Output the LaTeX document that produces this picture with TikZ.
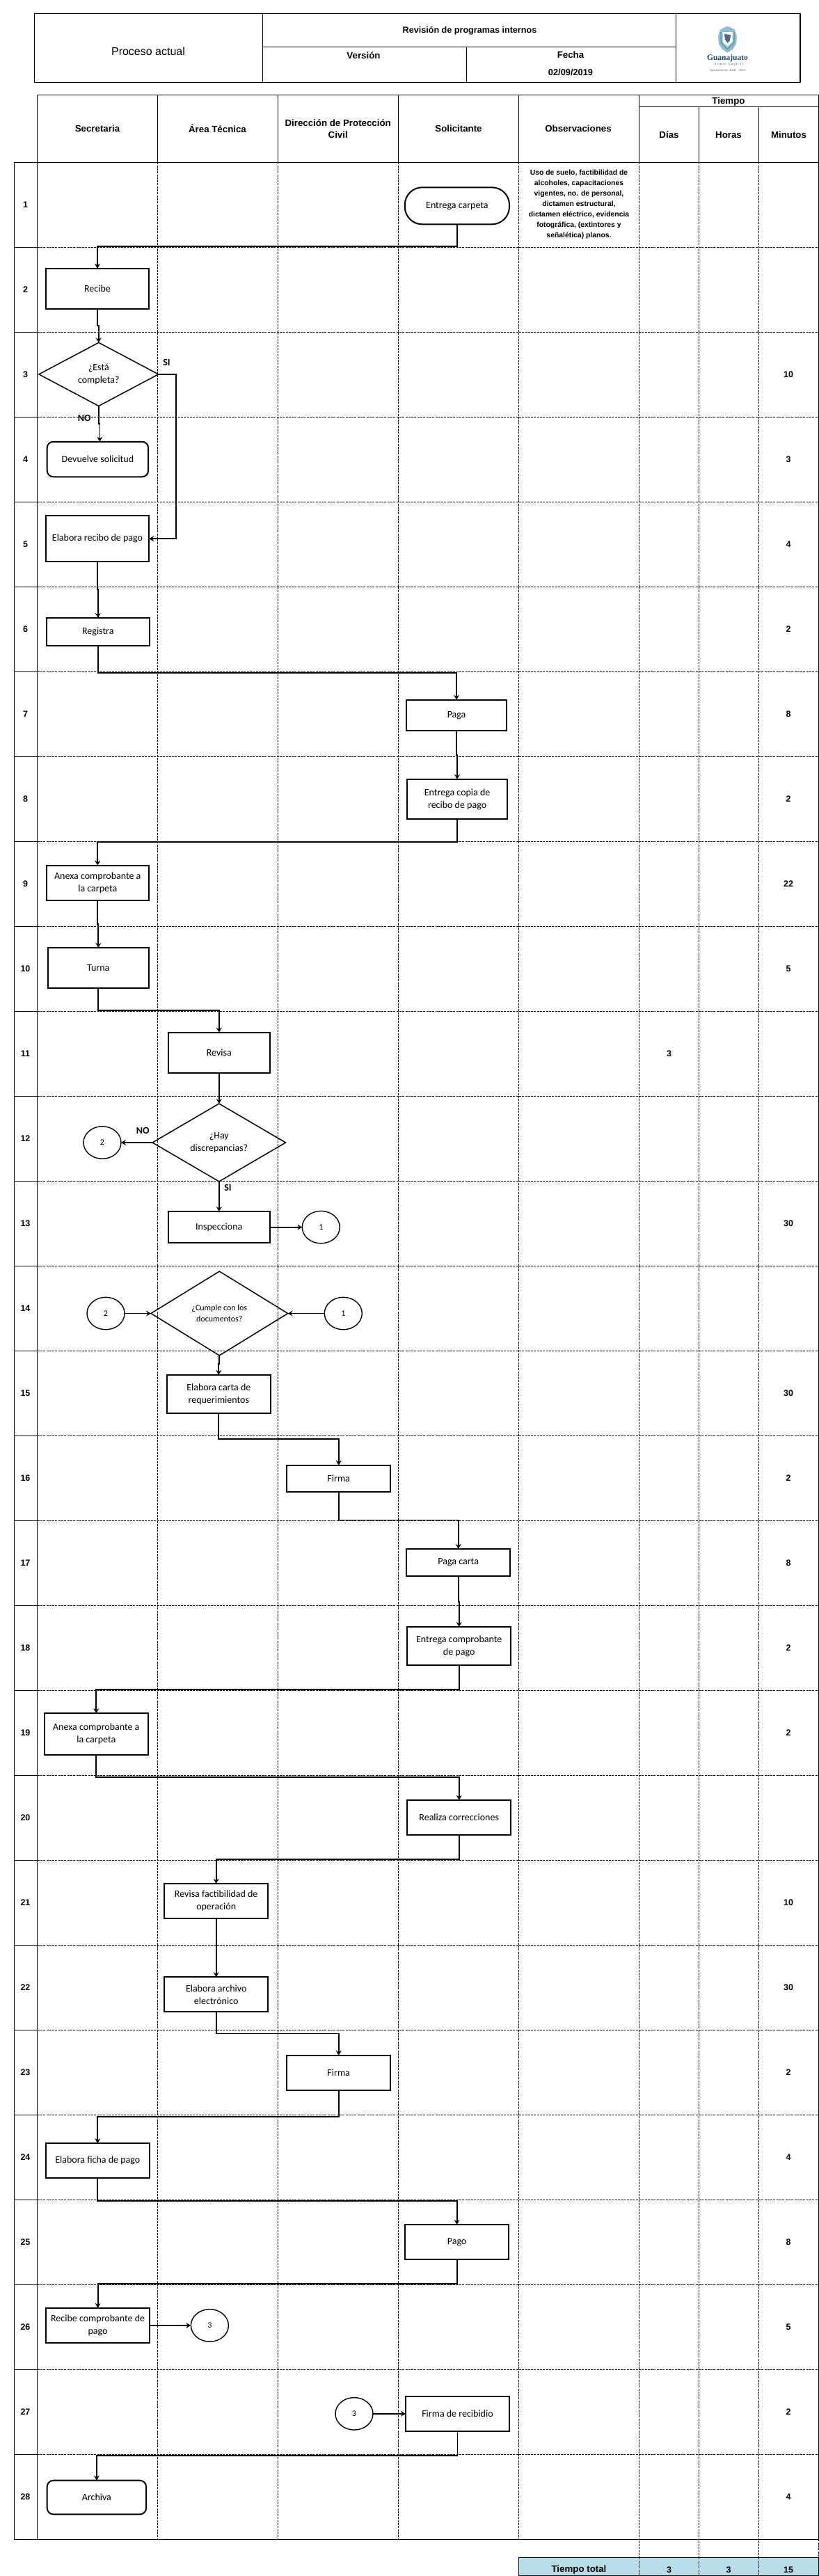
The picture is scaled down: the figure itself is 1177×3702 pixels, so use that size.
\documentclass[tikz,border=0pt]{standalone}
\usepackage{fontspec}
\setmainfont{Carlito}
\newfontfamily\headfont{Liberation Sans}
\newfontfamily\logofont{Liberation Serif}
\usepackage{xcolor}
\usetikzlibrary{calc}
\usetikzlibrary{arrows.meta}
\usetikzlibrary{shapes.geometric}
\definecolor{totalfill}{HTML}{B7DDE8}
\definecolor{crestteal}{HTML}{8FBFCC}
\definecolor{crestdark}{HTML}{4F8EA3}
\definecolor{logonavy}{HTML}{1D4A68}
\tikzset{
  gridsolid/.style={black, line width=1pt},
  griddash/.style={black, line width=0.9pt, dash pattern=on 3pt off 1.3pt},
  frame/.style={black, line width=1.5pt},
  procbox/.style={draw=black, line width=2pt, rectangle, inner sep=0pt, outer sep=0pt, align=center, font=\fontsize{14}{17.8}\selectfont},
  endbox/.style={procbox, rounded corners=9pt},
  decision/.style={draw=black, line width=1.5pt, diamond, inner sep=0pt, outer sep=0pt, align=center, font=\fontsize{14}{17.8}\selectfont},
  linkcirc/.style={draw=black, line width=1.4pt, ellipse, inner sep=0pt, outer sep=0pt, minimum width=54pt, minimum height=46.5pt, font=\fontsize{12}{14}\selectfont},
  flow/.style={black, line width=1.8pt, -{Stealth[length=7pt, width=8pt, inset=2.5pt]}},
  answer/.style={inner sep=0pt, font=\fontsize{14}{16}\selectfont\bfseries},
  rownum/.style={inner sep=0pt, font=\headfont\fontsize{12.5}{16}\selectfont\bfseries},
  headtxt/.style={inner sep=0pt, align=center, font=\headfont\fontsize{13.3}{17}\selectfont\bfseries},
}

\begin{document}
\begin{tikzpicture}[x=1pt, y=-1pt]
  \useasboundingbox (0,0) rectangle (1177,3702);
  % title block
  \draw[frame] (49.5,19.3) rectangle (1150,118.3);
  \draw[frame] (377.6,19.3) -- (377.6,118.3);
  \draw[frame] (971.5,19.3) -- (971.5,118.3);
  \draw[frame] (377.6,67.3) -- (971.5,67.3);
  \draw[frame] (670.4,67.3) -- (670.4,118.3);
  \node[inner sep=0pt, font=\headfont\fontsize{16}{18}\selectfont] (proceso) at (213,74) {Proceso actual};
  \node[headtxt, font=\headfont\fontsize{12.6}{15}\selectfont\bfseries] (revision) at (675,44.3) {Revisión de programas internos};
  \node[headtxt] (version) at (522.5,79.3) {Versión};
  \node[headtxt] (fecha) at (820,78.7) {Fecha};
  \node[headtxt, font=\headfont\fontsize{12.8}{15}\selectfont\bfseries] (dia) at (820,104) {02/09/2019};
  % crest
  \fill[crestteal] (1035,43) -- (1040,40) -- (1045.5,37.7) -- (1051,40) -- (1056,43) -- (1059,52) -- (1058,63) -- (1053,71) -- (1045.5,75.7) -- (1038,71) -- (1033,63) -- (1032,52) -- cycle;
  \draw[crestdark, line width=1pt] (1036,46) -- (1036,61) -- (1045.5,71) -- (1055,61) -- (1055,46);
  \fill[white] (1038.5,46) -- (1052.5,46) -- (1052.5,60) -- (1045.5,67) -- (1038.5,60) -- cycle;
  \fill[logonavy!80] (1041,49) -- (1050,50) -- (1049,58) -- (1045.5,62) -- (1042,57) -- cycle;
  \node[inner sep=0pt, text=logonavy, font=\logofont\fontsize{11.5}{12}\selectfont\bfseries] (guanajuato) at (1045.5,84) {Guanajuato};
  \node[inner sep=0pt, text=logonavy, font=\logofont\fontsize{4.6}{5}\selectfont] (somos) at (1047,92) {S o m o s \ \ C a p i t a l};
  \node[inner sep=0pt, text=logonavy!80, font=\logofont\fontsize{4.8}{5}\selectfont] (ayto) at (1045.5,101) {Ayuntamiento 2018 - 2021};
  % table head
  \draw[frame] (53.5,136.3) -- (1177,136.3);
  \draw[gridsolid] (53.5,136.3) -- (53.5,233.3);
  \draw[gridsolid] (226.5,136.3) -- (226.5,233.3);
  \draw[gridsolid] (399.5,136.3) -- (399.5,233.3);
  \draw[gridsolid] (572.5,136.3) -- (572.5,233.3);
  \draw[gridsolid] (745.5,136.3) -- (745.5,233.3);
  \draw[gridsolid] (918,136.3) -- (918,233.3);
  \draw[gridsolid] (1004.5,153.3) -- (1004.5,233.3);
  \draw[gridsolid] (1090,153.3) -- (1090,233.3);
  \draw[gridsolid] (918,153.3) -- (1177,153.3);
  \node[headtxt] (secretaria) at (140,184.5) {Secretaria};
  \node[headtxt] (areatec) at (312.5,184.5) {Área Técnica};
  \node[headtxt] (proteccion) at (485.7,184.8) {Dirección de Protección\\Civil};
  \node[headtxt] (solicitante) at (659,184.5) {Solicitante};
  \node[headtxt] (observa) at (831,184.5) {Observaciones};
  \node[headtxt] (tiempo) at (1047,145.7) {Tiempo};
  \node[headtxt] (dias) at (961.5,193.7) {Días};
  \node[headtxt] (horas) at (1047,193.7) {Horas};
  \node[headtxt] (minutos) at (1133.5,193.7) {Minutos};
  % grid
  \draw[griddash] (226.5,233.3) -- (226.5,3649.3);
  \draw[griddash] (399.5,233.3) -- (399.5,3649.3);
  \draw[griddash] (572.5,233.3) -- (572.5,3649.3);
  \draw[griddash] (745.5,233.3) -- (745.5,3649.3);
  \draw[griddash] (918,233.3) -- (918,3702);
  \draw[griddash] (1004.5,233.3) -- (1004.5,3702);
  \draw[griddash] (1090,233.3) -- (1090,3702);
  \draw[griddash] (1176.5,3649.3) -- (1176.5,3702);
  \draw[griddash] (53.6,355.3) -- (1177,355.3);
  \draw[griddash] (53.6,477.3) -- (1177,477.3);
  \draw[griddash] (53.6,599.3) -- (1177,599.3);
  \draw[griddash] (53.6,721.3) -- (1177,721.3);
  \draw[griddash] (53.6,843.3) -- (1177,843.3);
  \draw[griddash] (53.6,965.3) -- (1177,965.3);
  \draw[griddash] (53.6,1087.3) -- (1177,1087.3);
  \draw[griddash] (53.6,1209.3) -- (1177,1209.3);
  \draw[griddash] (53.6,1331.3) -- (1177,1331.3);
  \draw[griddash] (53.6,1453.3) -- (1177,1453.3);
  \draw[griddash] (53.6,1575.3) -- (1177,1575.3);
  \draw[griddash] (53.6,1697.3) -- (1177,1697.3);
  \draw[griddash] (53.6,1819.3) -- (1177,1819.3);
  \draw[griddash] (53.6,1941.3) -- (1177,1941.3);
  \draw[griddash] (53.6,2063.3) -- (1177,2063.3);
  \draw[griddash] (53.6,2185.3) -- (1177,2185.3);
  \draw[griddash] (53.6,2307.3) -- (1177,2307.3);
  \draw[griddash] (53.6,2429.3) -- (1177,2429.3);
  \draw[griddash] (53.6,2551.3) -- (1177,2551.3);
  \draw[griddash] (53.6,2673.3) -- (1177,2673.3);
  \draw[griddash] (53.6,2795.3) -- (1177,2795.3);
  \draw[griddash] (53.6,2917.3) -- (1177,2917.3);
  \draw[griddash] (53.6,3039.3) -- (1177,3039.3);
  \draw[griddash] (53.6,3161.3) -- (1177,3161.3);
  \draw[griddash] (53.6,3283.3) -- (1177,3283.3);
  \draw[griddash] (53.6,3405.3) -- (1177,3405.3);
  \draw[griddash] (53.6,3527.3) -- (1177,3527.3);
  \draw[gridsolid] (20.3,355.3) -- (53.6,355.3);
  \draw[gridsolid] (20.3,477.3) -- (53.6,477.3);
  \draw[gridsolid] (20.3,599.3) -- (53.6,599.3);
  \draw[gridsolid] (20.3,721.3) -- (53.6,721.3);
  \draw[gridsolid] (20.3,843.3) -- (53.6,843.3);
  \draw[gridsolid] (20.3,965.3) -- (53.6,965.3);
  \draw[gridsolid] (20.3,1087.3) -- (53.6,1087.3);
  \draw[gridsolid] (20.3,1209.3) -- (53.6,1209.3);
  \draw[gridsolid] (20.3,1331.3) -- (53.6,1331.3);
  \draw[gridsolid] (20.3,1453.3) -- (53.6,1453.3);
  \draw[gridsolid] (20.3,1575.3) -- (53.6,1575.3);
  \draw[gridsolid] (20.3,1697.3) -- (53.6,1697.3);
  \draw[gridsolid] (20.3,1819.3) -- (53.6,1819.3);
  \draw[gridsolid] (20.3,1941.3) -- (53.6,1941.3);
  \draw[gridsolid] (20.3,2063.3) -- (53.6,2063.3);
  \draw[gridsolid] (20.3,2185.3) -- (53.6,2185.3);
  \draw[gridsolid] (20.3,2307.3) -- (53.6,2307.3);
  \draw[gridsolid] (20.3,2429.3) -- (53.6,2429.3);
  \draw[gridsolid] (20.3,2551.3) -- (53.6,2551.3);
  \draw[gridsolid] (20.3,2673.3) -- (53.6,2673.3);
  \draw[gridsolid] (20.3,2795.3) -- (53.6,2795.3);
  \draw[gridsolid] (20.3,2917.3) -- (53.6,2917.3);
  \draw[gridsolid] (20.3,3039.3) -- (53.6,3039.3);
  \draw[gridsolid] (20.3,3161.3) -- (53.6,3161.3);
  \draw[gridsolid] (20.3,3283.3) -- (53.6,3283.3);
  \draw[gridsolid] (20.3,3405.3) -- (53.6,3405.3);
  \draw[gridsolid] (20.3,3527.3) -- (53.6,3527.3);
  \draw[gridsolid] (53.6,233.3) -- (53.6,3649.3);
  \draw[frame] (20.3,233.3) -- (1177,233.3);
  \draw[frame] (20.3,233.3) -- (20.3,3649.3);
  \draw[frame] (20.3,3649.3) -- (1177,3649.3);
  \draw[frame] (1176.5,136.3) -- (1176.5,3649.3);
  % row numbers
  \node[rownum] (n1) at (36.5,294.3) {1};
  \node[rownum] (n2) at (36.5,416.3) {2};
  \node[rownum] (n3) at (36.5,538.3) {3};
  \node[rownum] (n4) at (36.5,660.3) {4};
  \node[rownum] (n5) at (36.5,782.3) {5};
  \node[rownum] (n6) at (36.5,904.3) {6};
  \node[rownum] (n7) at (36.5,1026.3) {7};
  \node[rownum] (n8) at (36.5,1148.3) {8};
  \node[rownum] (n9) at (36.5,1270.3) {9};
  \node[rownum] (n10) at (36.5,1392.3) {10};
  \node[rownum] (n11) at (36.5,1514.3) {11};
  \node[rownum] (n12) at (36.5,1636.3) {12};
  \node[rownum] (n13) at (36.5,1758.3) {13};
  \node[rownum] (n14) at (36.5,1880.3) {14};
  \node[rownum] (n15) at (36.5,2002.3) {15};
  \node[rownum] (n16) at (36.5,2124.3) {16};
  \node[rownum] (n17) at (36.5,2246.3) {17};
  \node[rownum] (n18) at (36.5,2368.3) {18};
  \node[rownum] (n19) at (36.5,2490.3) {19};
  \node[rownum] (n20) at (36.5,2612.3) {20};
  \node[rownum] (n21) at (36.5,2734.3) {21};
  \node[rownum] (n22) at (36.5,2856.3) {22};
  \node[rownum] (n23) at (36.5,2978.3) {23};
  \node[rownum] (n24) at (36.5,3100.3) {24};
  \node[rownum] (n25) at (36.5,3222.3) {25};
  \node[rownum] (n26) at (36.5,3344.3) {26};
  \node[rownum] (n27) at (36.5,3466.3) {27};
  \node[rownum] (n28) at (36.5,3588.3) {28};
  % times
  \node[rownum] (d11) at (961.5,1514.3) {3};
  \node[rownum] (m3) at (1133,538.3) {10};
  \node[rownum] (m4) at (1133,660.3) {3};
  \node[rownum] (m5) at (1133,782.3) {4};
  \node[rownum] (m6) at (1133,904.3) {2};
  \node[rownum] (m7) at (1133,1026.3) {8};
  \node[rownum] (m8) at (1133,1148.3) {2};
  \node[rownum] (m9) at (1133,1270.3) {22};
  \node[rownum] (m10) at (1133,1392.3) {5};
  \node[rownum] (m13) at (1133,1758.3) {30};
  \node[rownum] (m15) at (1133,2002.3) {30};
  \node[rownum] (m16) at (1133,2124.3) {2};
  \node[rownum] (m17) at (1133,2246.3) {8};
  \node[rownum] (m18) at (1133,2368.3) {2};
  \node[rownum] (m19) at (1133,2490.3) {2};
  \node[rownum] (m21) at (1133,2734.3) {10};
  \node[rownum] (m22) at (1133,2856.3) {30};
  \node[rownum] (m23) at (1133,2978.3) {2};
  \node[rownum] (m24) at (1133,3100.3) {4};
  \node[rownum] (m25) at (1133,3222.3) {8};
  \node[rownum] (m26) at (1133,3344.3) {5};
  \node[rownum] (m27) at (1133,3466.3) {2};
  \node[rownum] (m28) at (1133,3588.3) {4};
  % observations
  \node[headtxt, font=\headfont\fontsize{10.4}{15}\selectfont\bfseries] (requisitos) at (832,294.3) {Uso de suelo, factibilidad de\\alcoholes, capacitaciones\\vigentes, no. de personal,\\dictamen estructural,\\dictamen eléctrico, evidencia\\fotográfica, (extintores y\\señalética) planos.};
  % total band
  \draw[black, line width=1.2pt, fill=totalfill] (745.5,3675.3) rectangle (1176.5,3701.5);
  \draw[griddash] (918,3675.3) -- (918,3702);
  \draw[griddash] (1004.5,3675.3) -- (1004.5,3702);
  \draw[griddash] (1090,3675.3) -- (1090,3702);
  \node[rownum, font=\headfont\fontsize{13.3}{16}\selectfont\bfseries] (total) at (832,3693) {Tiempo total};
  \node[rownum] (totald) at (961.5,3693) {3};
  \node[rownum] (totalh) at (1047,3693) {3};
  \node[rownum] (totalm) at (1133,3693) {15};
  % steps
  \node[procbox, rounded corners=25pt, minimum width=150.2pt, minimum height=53pt] (entregacarpeta) at (656.9,295.8) {Entrega carpeta};
  \node[procbox, minimum width=148.5pt, minimum height=57.8pt] (recibe) at (140,414.8) {Recibe};
  \node[decision, minimum width=171.8pt, minimum height=91.1pt] (completa) at (141.8,537.9) {¿Está\\completa?};
  \node[endbox, minimum width=145.5pt, minimum height=50.5pt] (devuelve) at (140.4,660) {Devuelve solicitud};
  \node[procbox, minimum width=148.5pt, minimum height=66.3pt] (elaborarecibo) at (140,774.2) {Elabora recibo de pago};
  \node[procbox, minimum width=148.4pt, minimum height=40pt] (registra) at (140.8,908) {Registra};
  \node[procbox, minimum width=143.8pt, minimum height=44.4pt] (paga) at (656.1,1027.9) {Paga};
  \node[procbox, minimum width=143.8pt, minimum height=57.4pt] (entregacopia) at (657.1,1148.5) {Entrega copia de\\recibo de pago};
  \node[procbox, minimum width=147pt, minimum height=50.6pt] (anexaA) at (140.3,1269) {Anexa comprobante a\\la carpeta};
  \node[procbox, minimum width=144.9pt, minimum height=58.2pt] (turna) at (141.3,1391.1) {Turna};
  \node[procbox, minimum width=145.4pt, minimum height=58.2pt] (revisa) at (314.8,1512.9) {Revisa};
  \node[decision, minimum width=191.4pt, minimum height=109.5pt] (discrepancias) at (314.8,1642) {¿Hay\\discrepancias?};
  \node[linkcirc] (irB) at (147,1642) {2};
  \node[procbox, minimum width=145.4pt, minimum height=45.2pt] (inspecciona) at (314.8,1763.6) {Inspecciona};
  \node[linkcirc] (irA) at (461.3,1763.6) {1};
  \node[decision, minimum width=196.7pt, minimum height=120.9pt, font=\fontsize{12}{15.7}\selectfont] (cumple) at (315.3,1887.5) {¿Cumple con los\\documentos?};
  \node[linkcirc] (vieneB) at (152,1887.5) {2};
  \node[linkcirc] (vieneA) at (493.3,1887.5) {1};
  \node[procbox, minimum width=149pt, minimum height=55.4pt] (elaboracarta) at (314.3,2003.6) {Elabora carta de\\requerimientos};
  \node[procbox, minimum width=149pt, minimum height=38.4pt] (firmaA) at (486.7,2125) {Firma};
  \node[procbox, minimum width=149pt, minimum height=39.3pt] (pagacarta) at (658.7,2245.5) {Paga carta};
  \node[procbox, minimum width=149pt, minimum height=55.4pt] (entregacomp) at (659.7,2365.6) {Entrega comprobante\\de pago};
  \node[procbox, minimum width=149pt, minimum height=59.9pt] (anexaB) at (138.3,2492) {Anexa comprobante a\\la carpeta};
  \node[procbox, minimum width=149pt, minimum height=50pt] (realiza) at (659.7,2611.8) {Realiza correcciones};
  \node[procbox, minimum width=149pt, minimum height=50pt] (revisafact) at (310.7,2731.9) {Revisa factibilidad de\\operación};
  \node[procbox, minimum width=149pt, minimum height=50pt] (elaboraarchivo) at (310.7,2866.3) {Elabora archivo\\electrónico};
  \node[procbox, minimum width=149pt, minimum height=50.4pt] (firmaB) at (486.7,2979) {Firma};
  \node[procbox, minimum width=149pt, minimum height=50pt] (elaboraficha) at (140.3,3105.1) {Elabora ficha de pago};
  \node[procbox, minimum width=149pt, minimum height=50pt] (pago) at (656.6,3222) {Pago};
  \node[procbox, minimum width=148.8pt, minimum height=50.3pt] (recibecomp) at (140.6,3341.9) {Recibe comprobante de\\pago};
  \node[linkcirc] (irC) at (301.4,3341.9) {3};
  \node[linkcirc] (vieneC) at (509,3468.8) {3};
  \node[procbox, minimum width=149.2pt, minimum height=50.3pt] (firmarec) at (657.5,3468.8) {Firma de recibidio};
  \node[endbox, minimum width=142.4pt, minimum height=48.6pt] (archiva) at (138.9,3589) {Archiva};
  % answers
  \node[answer] (siA) at (239.5,520.6) {SI};
  \node[answer] (noA) at (121.3,600.6) {NO};
  \node[answer] (noB) at (205.3,1624.6) {NO};
  \node[answer] (siB) at (327.5,1706.5) {SI};
  % flow
  \draw[flow] (entregacarpeta.south) -- ++(0,31.7) -| (recibe.north);
  \draw[flow] (recibe.south) -- ++(0,24.3) -| (completa.north);
  \draw[flow] (completa.south) -- ++(0,25.5) -| ([xshift=3pt]devuelve.north);
  \draw[flow] (completa.east) -- ++(25,0) |- (elaborarecibo.east);
  \draw[flow] (elaborarecibo.south) -- ++(0,39.7) -| (registra.north);
  \draw[flow] (registra.south) -- ++(0,39) -| (paga.north);
  \draw[flow] (paga.south) -- ++(0,35) -| (entregacopia.north);
  \draw[flow] (entregacopia.south) -- ++(0,32.8) -| (anexaA.north);
  \draw[flow] (anexaA.south) -- ++(0,33.7) -| (turna.north);
  \draw[flow] (turna.south) -- ++(0,31.5) -| (revisa.north);
  \draw[flow] (revisa.south) -- (discrepancias.north);
  \draw[flow] (discrepancias.west) -- (irB.east);
  \draw[flow] (discrepancias.south) -- (inspecciona.north);
  \draw[flow] (inspecciona.east) -- (irA.west);
  \draw[flow] (vieneB.east) -- (cumple.west);
  \draw[flow] (vieneA.west) -- (cumple.east);
  \draw[flow] (cumple.south) -- ++(0,12) -| (elaboracarta.north);
  \draw[flow] (elaboracarta.south) -- ++(0,37) -| (firmaA.north);
  \draw[flow] (firmaA.south) -- ++(0,40.2) -| (pagacarta.north);
  \draw[flow] (pagacarta.south) -- ++(0,36.6) -| (entregacomp.north);
  \draw[flow] (entregacomp.south) -- ++(0,34.8) -| (anexaB.north);
  \draw[flow] (anexaB.south) -- ++(0,31.7) -| (realiza.north);
  \draw[flow] (realiza.south) -- ++(0,35.2) -| (revisafact.north);
  \draw[flow] (revisafact.south) -- (elaboraarchivo.north);
  \draw[flow] (elaboraarchivo.south) -- ++(0,31.2) -| (firmaB.north);
  \draw[flow] (firmaB.south) -- ++(0,37.5) -| (elaboraficha.north);
  \draw[flow] (elaboraficha.south) -- ++(0,32.6) -| (pago.north);
  \draw[flow] (pago.south) -- ++(0,35.3) -| (recibecomp.north);
  \draw[flow] (recibecomp.east) -- (irC.west);
  \draw[flow] (vieneC.east) -- (firmarec.west);
  \draw[flow] (firmarec.south) -- ++(0,35.3) -| (archiva.north);
\end{tikzpicture}
\end{document}
